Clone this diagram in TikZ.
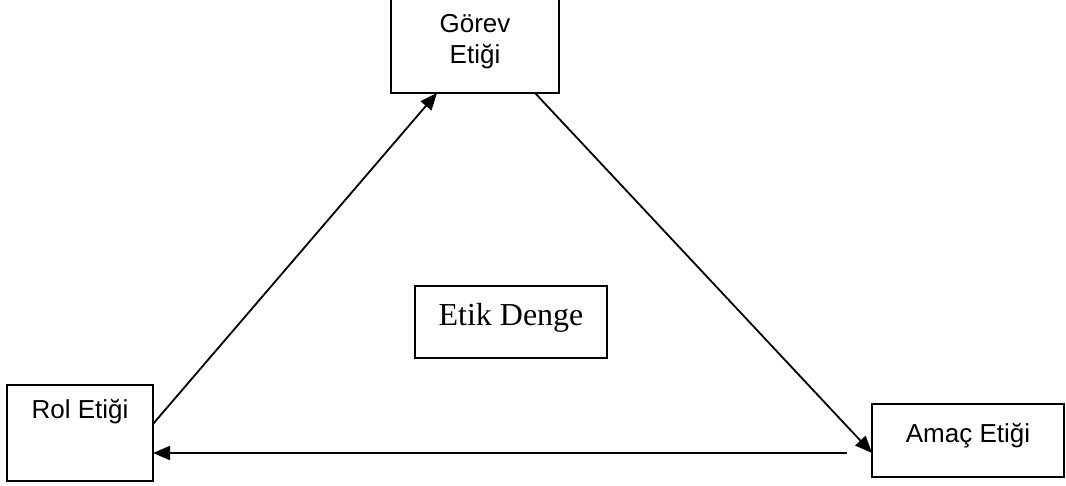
\documentclass[tikz,border=0pt]{standalone}
\usepackage{fontspec}
\setmainfont{Liberation Sans}
\newfontfamily\timesfont{Liberation Serif}
\usetikzlibrary{arrows.meta,calc}

\tikzset{
  box/.style={draw, line width=2pt, inner sep=0pt, outer sep=0pt},
  lbl/.style={anchor=base, inner sep=0pt, font=\fontsize{26}{31}\selectfont},
  conn/.style={line width=1.8pt, -{Triangle[length=17pt,width=14pt]}},
}

\begin{document}
\begin{tikzpicture}[x=1pt, y=-1pt]
  \clip (0,0) rectangle (1066,486);

  % the four boxes
  \node[box, minimum width=168pt, minimum height=96pt] (gorev) at (475,45) {};
  \node[box, minimum width=146pt, minimum height=96pt] (rol)   at (80,433) {};
  \node[box, minimum width=192pt, minimum height=73pt] (amac)  at (968,440.5) {};
  \node[box, minimum width=192pt, minimum height=72pt] (denge) at (511,322) {};

  % box texts
  \node[lbl] (gorevA) at (475,32.5) {Görev};
  \node[lbl] (gorevB) at (475,64) {Etiği};
  \node[lbl] (rolT)   at (80,418.5) {Rol Etiği};
  \node[lbl] (amacT)  at (968,442.5) {Amaç Etiği};
  \node[lbl, font=\timesfont\fontsize{32}{36}\selectfont] (dengeT) at (511,326) {Etik Denge};

  % the cycle of arrows
  \draw[conn] ($(rol.east)+(0,-9)$) -- ($(gorev.south)+(-38,0)$);
  \draw[conn] ($(gorev.south)+(60,0)$) -- ($(amac.west)+(0,12.5)$);
  \draw[conn] ($(amac.west)+(-25,12.5)$) -- ($(rol.east)+(0,20)$);
\end{tikzpicture}
\end{document}
